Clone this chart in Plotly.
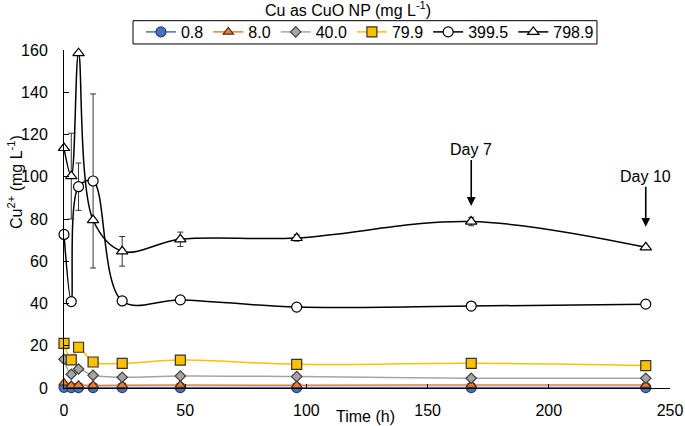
import plotly.graph_objects as go

time_h = [0, 3, 6, 12, 24, 48, 96, 168, 240]
cu_08 = [0.3, 0.2, 0.2, 0.2, 0.2, 0.2, 0.2, 0.2, 0.2]
cu_8 = [2.4, 1.2, 1.3, 1.2, 1.3, 1.4, 1.3, 1.4, 1.4]
cu_40 = [13.6, 6.5, 9.0, 6.0, 5.1, 5.7, 5.4, 4.6, 4.6]
cu_799 = [21.1, 13.3, 19.3, 12.3, 11.7, 13.2, 11.2, 11.7, 10.6]
cu_3995 = [72.7, 40.9, 95.3, 98.0, 41.2, 41.7, 38.3, 38.8, 39.7]
cu_7989 = [113.6, 100.3, 158.5, 79.5, 64.7, 70.4, 71.0, 78.8, 66.6]
err_3995 = [0, 0, 11.2, 41.2, 0, 0, 0, 0, 0]
err_7989 = [0, 20.3, 0, 0, 7.0, 3.4, 1.5, 2.0, 0.8]
series_names = ["0.8", "8.0", "40.0", "79.9", "399.5", "798.9"]

FONT = "Arial, 'Liberation Sans', sans-serif"

styles = [
    dict(line="#4472C4", fill="#4472C4", edge="#2F3F5F", symbol="circle", size=10),
    dict(line="#ED7D31", fill="#ED7D31", edge="#4A3020", symbol="triangle-up", size=9),
    dict(line="#A5A5A5", fill="#A5A5A5", edge="#404040", symbol="diamond", size=8),
    dict(line="#FFC000", fill="#FFC000", edge="#333333", symbol="square", size=10),
    dict(line="#000000", fill="#FFFFFF", edge="#000000", symbol="circle", size=10),
    dict(line="#000000", fill="#FFFFFF", edge="#000000", symbol="triangle-up", size=10),
]
values = [cu_08, cu_8, cu_40, cu_799, cu_3995, cu_7989]
errors = [None, None, None, None, err_3995, err_7989]

fig = go.Figure()
for name, vals, st, err in zip(series_names, values, styles, errors):
    kw = {}
    if err is not None:
        kw["error_y"] = dict(type="data", array=err, visible=True,
                             color="#333333", thickness=1, width=3)
    fig.add_trace(go.Scatter(
        x=time_h, y=vals, name=name, mode="lines+markers",
        line=dict(color=st["line"], width=1.5, shape="spline", smoothing=1),
        marker=dict(symbol=st["symbol"], size=st["size"], color=st["fill"],
                    line=dict(color=st["edge"], width=1.2)),
        cliponaxis=False, **kw))

fig.update_layout(
    width=685, height=426,
    margin=dict(l=64, r=15, t=50, b=38, autoexpand=False),
    plot_bgcolor="white", paper_bgcolor="white",
    font=dict(family=FONT, size=16, color="#000000"),
    showlegend=True,
    legend=dict(orientation="h", xref="container", yref="container",
                x=0.5401, xanchor="center", y=0.9249, yanchor="middle",
                borderwidth=0, bgcolor="rgba(0,0,0,0)",
                font=dict(size=16), itemwidth=30, tracegroupgap=0),
    shapes=[
        dict(type="rect", xref="paper", yref="paper",
             x0=0.1139, x1=0.8795, y0=1.0178, y1=1.0867,
             line=dict(color="#000000", width=1), fillcolor="rgba(0,0,0,0)",
             layer="below"),
    ],
    xaxis=dict(range=[0, 250], dtick=50, showline=True, linecolor="#000000", linewidth=1,
               ticks="inside", ticklen=4, tickcolor="#000000", showgrid=False,
               zeroline=False, ticklabelstandoff=8, automargin=False),
    yaxis=dict(range=[0, 160], dtick=20, showline=True, linecolor="#000000", linewidth=1,
               ticks="inside", ticklen=5, tickcolor="#000000", showgrid=False,
               zeroline=False, ticklabelstandoff=12, automargin=False),
    annotations=[
        dict(text="Cu as CuO NP (mg L<sup>-1</sup>)", xref="paper", yref="paper",
             x=0.469, y=1.0875, xanchor="center", yanchor="bottom", showarrow=False,
             font=dict(size=16), borderpad=0),
        dict(text="Cu<sup>2+</sup> (mg L<sup>-1</sup>)", xref="paper", yref="paper",
             x=-0.08, y=0.608, xanchor="center", yanchor="middle", showarrow=False,
             textangle=-90, font=dict(size=16)),
        dict(text="Time (h)", xref="paper", yref="paper",
             x=0.498, y=-0.083, xanchor="center", yanchor="middle", showarrow=False,
             font=dict(size=16)),
        dict(text="Day 7", x=168, y=86.2, xref="x", yref="y", showarrow=True,
             ax=0, ay=-56, arrowhead=2, arrowsize=1.1, arrowwidth=1.6,
             arrowcolor="#000000", font=dict(size=16)),
        dict(text="Day 10", x=240, y=76.3, xref="x", yref="y", showarrow=True,
             ax=0, ay=-50, arrowhead=2, arrowsize=1.1, arrowwidth=1.6,
             arrowcolor="#000000", font=dict(size=16)),
    ],
)

# remove the page's default 8px body margin so the figure sits at the top-left corner
fig.write_html("out.html", config={"displayModeBar": False},
               post_script="document.body.style.margin='0';")
